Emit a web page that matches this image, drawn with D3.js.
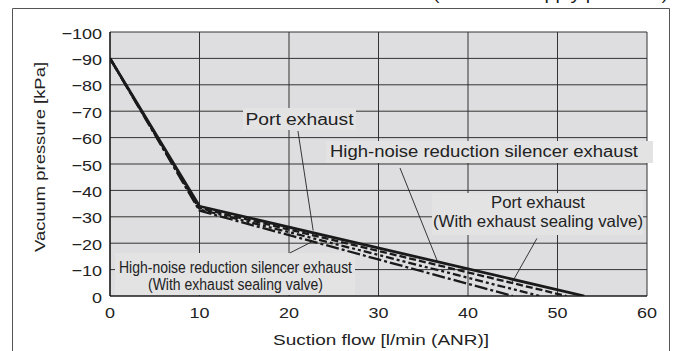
<!DOCTYPE html>
<html><head><meta charset="utf-8">
<script src="https://cdn.jsdelivr.net/npm/d3@7"></script>
<style>html,body{margin:0;padding:0;background:#fff;}svg{display:block;}</style>
</head><body>
<svg id="c" width="678" height="351"></svg>
<script>
// ---- data ----
const xTicks = [0, 10, 20, 30, 40, 50, 60];
const yTicks = [-100, -90, -80, -70, -60, -50, -40, -30, -20, -10, 0];
const xTitle = "Suction flow [l/min (ANR)]";
const yTitle = "Vacuum pressure [kPa]";
const topNote = "(Standard supply pressure)";
const seriesNames = [
  "Port exhaust",
  "Port exhaust (With exhaust sealing valve)",
  "High-noise reduction silencer exhaust",
  "High-noise reduction silencer exhaust (With exhaust sealing valve)"
];
const flowPortExhaust      = [0, 10, 53];
const pressPortExhaust     = [-90, -34, 0];
const flowPortValve        = [0, 10, 51];
const pressPortValve       = [-90, -33.3, 0];
const flowSilencer         = [0, 10, 48];
const pressSilencer        = [-90, -32.8, 0];
const flowSilencerValve    = [0, 10, 45];
const pressSilencerValve   = [-90, -32.3, 0];

// ---- layout ----
const svg = d3.select("#c");
const x = d3.scaleLinear().domain([0, 60]).range([110, 647]);
const y = d3.scaleLinear().domain([-100, 0]).range([32, 296]);
const font = "'Liberation Sans', Arial, Helvetica, sans-serif";
const fmt = d3.format("d");

// outer frame
svg.append("path").attr("d", "M12.5,360 V8.5 H669.5 V360")
  .attr("fill", "none").attr("stroke", "#555").attr("stroke-width", 1);

// top note (cut off at the top edge, as in the reference)
svg.append("text").text(topNote)
  .attr("x", 433).attr("y", -0.5)
  .attr("textLength", 235).attr("lengthAdjust", "spacingAndGlyphs")
  .attr("font-family", font).attr("font-size", 16).attr("fill", "#222");

// plot background
svg.append("rect").attr("x", x(0)).attr("y", y(-100))
  .attr("width", x(60) - x(0)).attr("height", y(0) - y(-100))
  .attr("fill", "#dedee0");

// grid
const grid = svg.append("g").attr("stroke", "#333").attr("stroke-width", 1);
grid.selectAll("line.gx").data(xTicks).join("line")
  .attr("x1", d => x(d)).attr("x2", d => x(d))
  .attr("y1", y(-100)).attr("y2", y(0));
grid.selectAll("line.gy").data(yTicks).join("line")
  .attr("x1", x(0)).attr("x2", x(60))
  .attr("y1", d => y(d)).attr("y2", d => y(d));

// label boxes (cover grid)
const boxes = [
  [243, 108, 356, 130],
  [326, 141, 653, 163],
  [432, 193, 643, 235],
  [115, 253, 355, 295]
];
svg.selectAll("rect.box").data(boxes).join("rect")
  .attr("x", d => d[0]).attr("y", d => d[1])
  .attr("width", d => d[2] - d[0]).attr("height", d => d[3] - d[1])
  .attr("fill", "#e3e3e4");

// axes lines
svg.append("line").attr("x1", x(0)).attr("x2", x(0)).attr("y1", y(-100)).attr("y2", y(0))
  .attr("stroke", "#111").attr("stroke-width", 1.2);
svg.append("line").attr("x1", x(0)).attr("x2", x(60)).attr("y1", y(0)).attr("y2", y(0))
  .attr("stroke", "#111").attr("stroke-width", 1.2);

// series
const series = [
  { f: flowSilencerValve, p: pressSilencerValve, dash: "13,3,3,3", w: 2.3 },
  { f: flowSilencer, p: pressSilencer, dash: "8,3,3,3,3,3", w: 2.3 },
  { f: flowPortValve, p: pressPortValve, dash: "7,3", w: 2.3 },
  { f: flowPortExhaust, p: pressPortExhaust, dash: null, w: 2.8 }
];
const line = d3.line().x(d => x(d[0])).y(d => y(d[1]));
svg.append("clipPath").attr("id", "clip").append("rect")
  .attr("x", x(0)).attr("y", y(-100)).attr("width", x(60) - x(0)).attr("height", y(0) - y(-100));
const sg = svg.append("g").attr("clip-path", "url(#clip)");
series.forEach(s => {
  sg.append("path").datum(s.f.map((v, i) => [v, s.p[i]]))
    .attr("d", line).attr("fill", "none").attr("stroke", "#1a1a1a")
    .attr("stroke-width", s.w).attr("stroke-dasharray", s.dash)
    .attr("stroke-linejoin", "round");
});

// leaders (data coordinates)
const leaders = [
  [[21.0, -62.5], [22.7, -24.8]],
  [[32.4, -48.5], [36.6, -13.0]],
  [[47.7, -21.8], [44.9, -5.0]],
  [[20.1, -16.3], [22.6, -20.6]]
];
svg.selectAll("line.ld").data(leaders).join("line")
  .attr("x1", d => x(d[0][0])).attr("y1", d => y(d[0][1]))
  .attr("x2", d => x(d[1][0])).attr("y2", d => y(d[1][1]))
  .attr("stroke", "#222").attr("stroke-width", 0.9);

// tick labels
svg.selectAll("text.yt").data(yTicks).join("text")
  .attr("transform", d => `translate(102,${y(d) + 6.5}) scale(1.16,1)`)
  .attr("text-anchor", "end").attr("font-family", font).attr("font-size", 15.5).attr("fill", "#222")
  .text(d => d === 0 ? "0" : "\u2212" + fmt(Math.abs(d)));
svg.selectAll("text.xt").data(xTicks).join("text")
  .attr("transform", d => `translate(${x(d)},318) scale(1.16,1)`)
  .attr("text-anchor", "middle").attr("font-family", font).attr("font-size", 15.5).attr("fill", "#222")
  .text(d => fmt(d));

// axis titles
svg.append("text").text(xTitle)
  .attr("x", 381).attr("y", 345).attr("text-anchor", "middle")
  .attr("textLength", 216).attr("lengthAdjust", "spacingAndGlyphs")
  .attr("font-family", font).attr("font-size", 15.5).attr("fill", "#222");
svg.append("text").text(yTitle)
  .attr("transform", "translate(45,157) rotate(-90)").attr("text-anchor", "middle")
  .attr("textLength", 190).attr("lengthAdjust", "spacingAndGlyphs")
  .attr("font-family", font).attr("font-size", 15.5).attr("fill", "#222");

// annotation labels
const labels = [
  { t: "Port exhaust", x: 299.5, y: 125, w: 108, fs: 16 },
  { t: "High-noise reduction silencer exhaust", x: 484, y: 157, w: 308, fs: 16 },
  { t: "Port exhaust", x: 538, y: 207.5, w: 94, fs: 16.5 },
  { t: "(With exhaust sealing valve)", x: 538, y: 227, w: 210, fs: 16.5 },
  { t: "High-noise reduction silencer exhaust", x: 235.5, y: 272.5, w: 233, fs: 16 },
  { t: "(With exhaust sealing valve)", x: 235.5, y: 290, w: 175, fs: 16 }
];
svg.selectAll("text.lb").data(labels).join("text")
  .attr("x", d => d.x).attr("y", d => d.y).attr("text-anchor", "middle")
  .attr("textLength", d => d.w).attr("lengthAdjust", "spacingAndGlyphs")
  .attr("font-family", font).attr("font-size", d => d.fs).attr("fill", "#222")
  .text(d => d.t);
</script>
</body></html>
